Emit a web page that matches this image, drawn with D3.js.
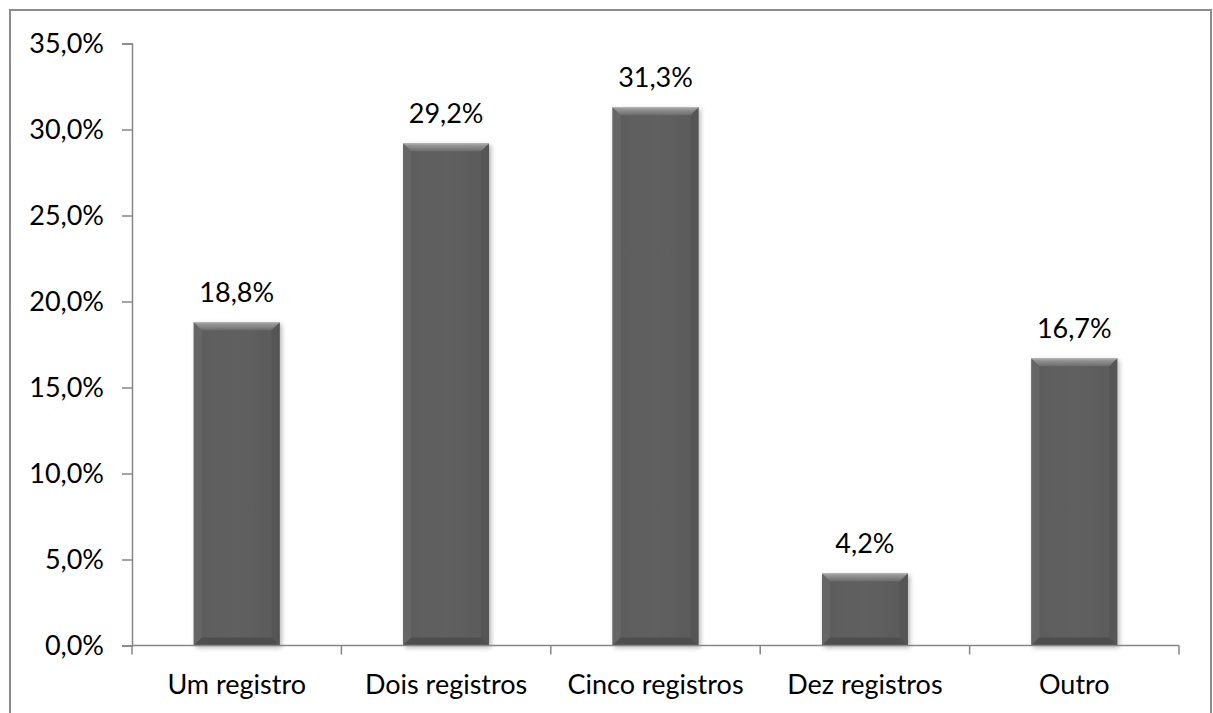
<!DOCTYPE html>
<html>
<head>
<meta charset="utf-8">
<script src="https://cdn.jsdelivr.net/npm/d3@7"></script>
<style>
  html, body { margin: 0; padding: 0; background: #fff; }
  svg { display: block; font-family: Lato, "Open Sans", sans-serif; }
</style>
</head>
<body>
<svg id="chart" width="1213" height="713"></svg>
<script>
// Number of records chosen, share of respondents
const categories = ["Um registro", "Dois registros", "Cinco registros", "Dez registros", "Outro"];
const values = [18.8, 29.2, 31.3, 4.2, 16.7];
const yTicks = [0, 5, 10, 15, 20, 25, 30, 35];

const W = 1213, H = 713;
const margin = { left: 132, right: W - 1179, top: 43.5, bottom: H - 645.5 };
const fontSize = 27;

const svg = d3.select("#chart");
const fmt = v => v.toFixed(1).replace(".", ",") + "%";

// Outer frame
svg.append("rect")
  .attr("x", 10).attr("y", 10)
  .attr("width", 1201).attr("height", 720)
  .attr("fill", "none").attr("stroke", "#8c8c8c").attr("stroke-width", 2);

const x = d3.scaleBand()
  .domain(categories)
  .range([margin.left, W - margin.right])
  .paddingInner(0.59).paddingOuter(0.295);

const band = d3.scaleBand().domain(categories).range([margin.left, W - margin.right]);

const y = d3.scaleLinear().domain([0, 35]).range([H - margin.bottom, margin.top]);

// Soft shadow under the bars
const defs = svg.append("defs");
const shadow = defs.append("filter").attr("id", "shadow")
  .attr("x", "-20%").attr("y", "-5%").attr("width", "140%").attr("height", "115%");
shadow.append("feGaussianBlur").attr("in", "SourceAlpha").attr("stdDeviation", 2.5).attr("result", "b");
shadow.append("feOffset").attr("in", "b").attr("dx", 2).attr("dy", 2).attr("result", "o");
shadow.append("feComponentTransfer").attr("in", "o").attr("result", "s")
  .append("feFuncA").attr("type", "linear").attr("slope", 0.3);
const merge = shadow.append("feMerge");
merge.append("feMergeNode").attr("in", "s");
merge.append("feMergeNode").attr("in", "SourceGraphic");

const faceGrad = defs.append("linearGradient").attr("id", "face").attr("x1", 0).attr("x2", 1).attr("y1", 0).attr("y2", 0);
faceGrad.append("stop").attr("offset", "0%").attr("stop-color", "#5c5c5c");
faceGrad.append("stop").attr("offset", "50%").attr("stop-color", "#606060");
faceGrad.append("stop").attr("offset", "100%").attr("stop-color", "#5a5a5a");

const topGrad = defs.append("linearGradient").attr("id", "topBevel").attr("x1", 0).attr("x2", 0).attr("y1", 0).attr("y2", 1);
topGrad.append("stop").attr("offset", "0%").attr("stop-color", "#a4a4a4");
topGrad.append("stop").attr("offset", "100%").attr("stop-color", "#6c6c6c");

// Bars with bevelled edges
const bars = svg.append("g").selectAll("g.bar")
  .data(categories.map((c, i) => ({ c, v: values[i] })))
  .join("g").attr("class", "bar");

const bv = 8;
bars.each(function(d) {
  const g = d3.select(this);
  const x0 = x(d.c), x1 = x0 + x.bandwidth();
  const y0 = y(d.v), y1 = y(0);
  const b = Math.min(bv, (y1 - y0) / 2);
  g.append("rect")
    .attr("x", x0).attr("y", y0).attr("width", x1 - x0).attr("height", y1 - y0)
    .attr("fill", "url(#face)").attr("filter", "url(#shadow)");
  // left
  g.append("path").attr("d", `M${x0},${y0}L${x0 + b},${y0 + b}L${x0 + b},${y1 - b}L${x0},${y1}Z`)
    .attr("fill", "#666666");
  // right
  g.append("path").attr("d", `M${x1},${y0}L${x1 - b},${y0 + b}L${x1 - b},${y1 - b}L${x1},${y1}Z`)
    .attr("fill", "#555555");
  // bottom
  g.append("path").attr("d", `M${x0},${y1}L${x0 + b},${y1 - b}L${x1 - b},${y1 - b}L${x1},${y1}Z`)
    .attr("fill", "#4e4e4e");
  // top
  g.append("path").attr("d", `M${x0},${y0}L${x1},${y0}L${x1 - b},${y0 + b}L${x0 + b},${y0 + b}Z`)
    .attr("fill", "url(#topBevel)");
  // thin light outline at the top
  g.append("line").attr("x1", x0).attr("x2", x1).attr("y1", y0 + 0.5).attr("y2", y0 + 0.5)
    .attr("stroke", "#b8b8b8").attr("stroke-width", 1);
});

// Value labels
svg.append("g").selectAll("text")
  .data(categories.map((c, i) => ({ c, v: values[i] })))
  .join("text")
  .attr("x", d => x(d.c) + x.bandwidth() / 2)
  .attr("y", d => y(d.v) - 20)
  .attr("text-anchor", "middle")
  .attr("font-size", fontSize)
  .attr("fill", "#000")
  .text(d => fmt(d.v));

// Y axis
const yAxis = d3.axisLeft(y).tickValues(yTicks).tickSize(10).tickPadding(18)
  .tickFormat(fmt);
const gy = svg.append("g").attr("transform", `translate(${margin.left},0)`).call(yAxis);
gy.select(".domain").attr("stroke", "#868686").attr("stroke-width", 1.5);
gy.selectAll(".tick line").attr("stroke", "#868686").attr("stroke-width", 1.5);
gy.selectAll(".tick text").attr("font-size", fontSize).attr("fill", "#000")
  .attr("font-family", "Lato, 'Open Sans', sans-serif");

// X axis: category boundaries as ticks
const xAxisG = svg.append("g");
xAxisG.append("line")
  .attr("x1", margin.left).attr("x2", W - margin.right)
  .attr("y1", y(0)).attr("y2", y(0))
  .attr("stroke", "#868686").attr("stroke-width", 1.5);
const bounds = categories.map(c => band(c)).concat([W - margin.right]);
xAxisG.selectAll("line.tick").data(bounds).join("line").attr("class", "tick")
  .attr("x1", d => d).attr("x2", d => d)
  .attr("y1", y(0)).attr("y2", y(0) + 9)
  .attr("stroke", "#868686").attr("stroke-width", 1.5);
xAxisG.selectAll("text").data(categories).join("text")
  .attr("x", c => band(c) + band.bandwidth() / 2)
  .attr("y", 694)
  .attr("text-anchor", "middle")
  .attr("font-size", fontSize)
  .attr("fill", "#000")
  .text(c => c);
</script>
</body>
</html>
